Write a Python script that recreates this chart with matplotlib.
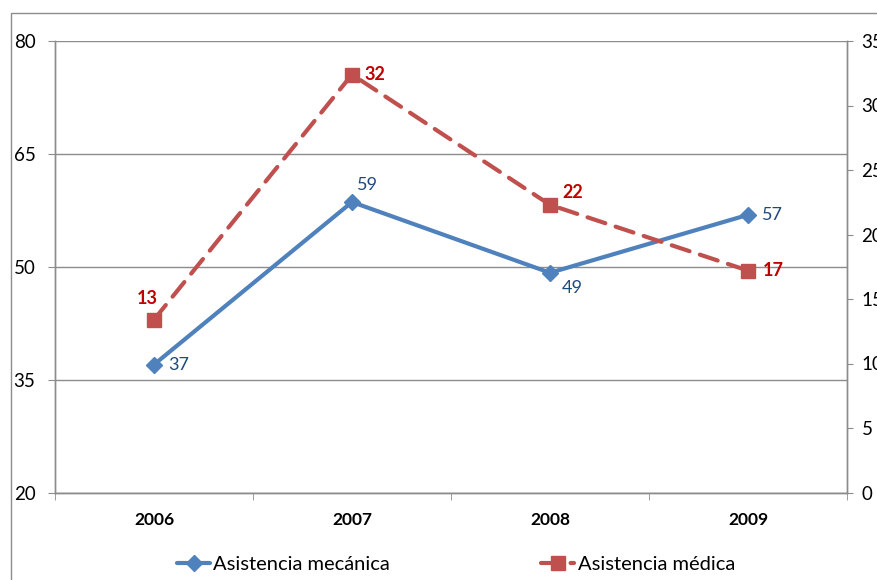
import matplotlib.pyplot as plt
from matplotlib.patches import Rectangle

plt.rcParams['font.family'] = ['Lato', 'DejaVu Sans']

years = ['2006', '2007', '2008', '2009']
mecanica = [37.0, 58.6, 49.2, 56.9]
medica = [13.4, 32.4, 22.3, 17.2]

blue = '#4F81BD'
red = '#C0504D'
grid_gray = '#8C8C8C'

fig = plt.figure(figsize=(8.78, 5.8), dpi=100)
ax = fig.add_axes([55 / 878, 87.5 / 580, 792 / 878, 451.5 / 580])
ax2 = ax.twinx()

x = range(len(years))
ax.plot(x, mecanica, color=blue, lw=3, marker='D', ms=8,
        solid_capstyle='round', label='Asistencia mecánica', zorder=3)
ax2.plot(x, medica, color=red, lw=3, ls=(0, (4.5, 2.6)), dash_capstyle='round',
         marker='s', ms=10, label='Asistencia médica', zorder=3)

ax.set_xlim(-0.5, 3.5)
ax.set_ylim(20, 80)
ax.set_yticks([20, 35, 50, 65, 80])
ax2.set_ylim(0, 35)
ax2.set_yticks(range(0, 36, 5))

ax.set_xticks(x)
ax.set_xticklabels(years, fontweight='bold', fontsize=12.5)
ax.set_xticks([0.5, 1.5, 2.5, 3.5, -0.5], minor=True)
ax.tick_params(axis='x', which='major', length=0, pad=14)
ax.tick_params(axis='x', which='minor', length=5, color=grid_gray)
ax.tick_params(axis='y', length=5, color=grid_gray, labelsize=13.5, pad=9)
ax2.tick_params(axis='y', length=4, color=grid_gray, labelsize=13.5, pad=6.5)

ax.grid(axis='y', color=grid_gray, lw=1)
ax.set_axisbelow(True)
for a in (ax, ax2):
    a.spines['top'].set_visible(False)
    for s in ('left', 'right', 'bottom'):
        a.spines[s].set_color(grid_gray)
        a.spines[s].set_linewidth(1)

# data labels
mec_offsets = [(10, 0, 'left'), (11, 12, 'center'), (16, -11, 'center'), (10, 0, 'left')]
for i, (v, (dx, dy, ha)) in enumerate(zip(mecanica, mec_offsets)):
    ax.annotate(f'{v:.0f}', (i, v), xytext=(dx, dy), textcoords='offset points',
                ha=ha, va='center', color='#1F497D', fontsize=13)

med_offsets = [(-5, 15, 'center'), (9, 0, 'left'), (9, 9, 'left'), (11, 0, 'left')]
for i, (v, (dx, dy, ha)) in enumerate(zip(medica, med_offsets)):
    ax2.annotate(f'{v:.0f}', (i, v), xytext=(dx, dy), textcoords='offset points',
                 ha=ha, va='center', color='#C00000', fontsize=13, fontweight='bold')

h1, l1 = ax.get_legend_handles_labels()
h2, l2 = ax2.get_legend_handles_labels()
fig.legend(h1 + h2, l1 + l2, loc='center', bbox_to_anchor=(456 / 878, 0.026), ncol=2,
           frameon=False, fontsize=14.5, handlelength=1.65, handletextpad=0.15,
           columnspacing=7.5)

# chart frame
fig.add_artist(Rectangle((11 / 878, -0.1), 1.2, 1.1 - 12.5 / 580,
                         transform=fig.transFigure, fill=False,
                         edgecolor=grid_gray, lw=1))

fig.savefig('out.png', dpi=100)
